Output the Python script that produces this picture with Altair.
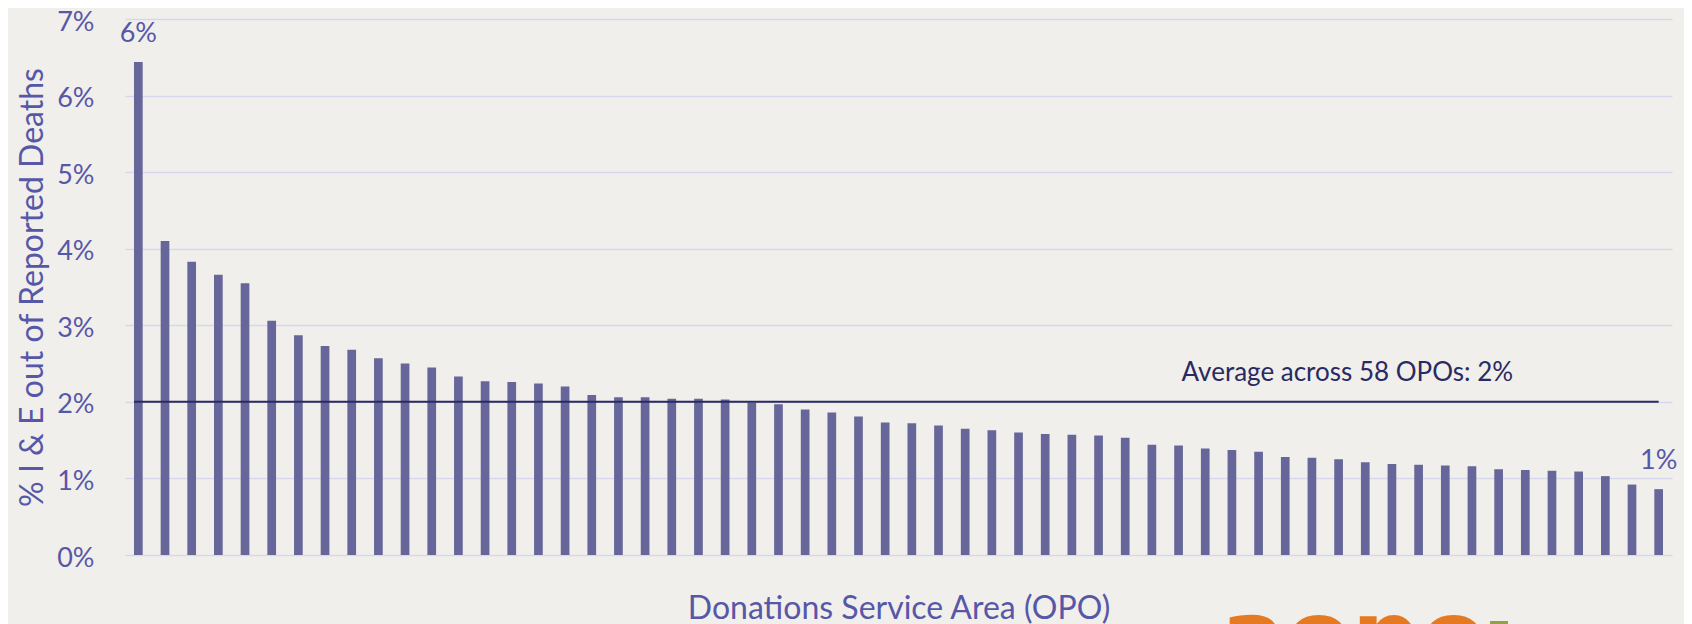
import altair as alt
import pandas as pd

# --- data -------------------------------------------------------------
opos = [f"OPO {i}" for i in range(1, 59)]
pct = [6.44, 4.10, 3.83, 3.66, 3.55, 3.06, 2.87, 2.73, 2.68, 2.57,
       2.50, 2.45, 2.33, 2.27, 2.26, 2.24, 2.20, 2.09, 2.06, 2.06,
       2.04, 2.04, 2.03, 1.99, 1.97, 1.90, 1.86, 1.81, 1.73, 1.72,
       1.69, 1.65, 1.63, 1.60, 1.58, 1.57, 1.56, 1.53, 1.44, 1.43,
       1.39, 1.37, 1.35, 1.28, 1.27, 1.25, 1.21, 1.19, 1.18, 1.17,
       1.16, 1.12, 1.11, 1.10, 1.09, 1.03, 0.92, 0.86]
y_ticks = [0, 1, 2, 3, 4, 5, 6, 7]
average = 2.0
average_label = "Average across 58 OPOs: 2%"
labelled = [opos[0], opos[-1]]
x_title = "Donations Service Area (OPO)"
y_title = "% I & E out of Reported Deaths"
logo_text = "aopo"

FONT = "Lato"
BAR = "#66669A"
TXT = "#5757A8"
NAVY = "#2A2A62"
GRID = "#D7D7EE"

df = pd.DataFrame({"opo": opos, "pct": pct})
df["label"] = [f"{round(v)}%" if o in labelled else "" for o, v in zip(opos, pct)]

x_enc = alt.X(
    "opo:N", sort=None,
    scale=alt.Scale(paddingInner=0.674, paddingOuter=0.337),
    axis=alt.Axis(labels=False, ticks=False, domain=False, grid=False,
                  title=x_title, titleFont=FONT, titleFontSize=32,
                  titleFontWeight="normal", titleColor=TXT, titlePadding=38),
)
y_enc = alt.Y(
    "pct:Q",
    scale=alt.Scale(domain=[0, 7], nice=False),
    axis=alt.Axis(values=y_ticks, labelExpr="datum.value + '%'",
                  labelFont=FONT, labelFontSize=27, labelColor=TXT,
                  labelPadding=31, labelOffset=3, ticks=False, domain=False,
                  grid=True, gridColor=GRID, gridWidth=1.6,
                  title=y_title, titleFont=FONT, titleFontSize=32,
                  titleFontWeight="normal", titleColor=TXT,
                  titleX=-93, titleBaseline="middle", titleAngle=270),
)

base = alt.Chart(df)
bars = base.mark_bar(color=BAR).encode(x=x_enc, y=y_enc)

labels = base.mark_text(font=FONT, fontSize=27, color=TXT,
                        baseline="alphabetic", dy=-20).encode(
    x=alt.X("opo:N", sort=None), y="pct:Q", text="label:N")

avg_df = pd.DataFrame({"avg": [average], "txt": [average_label]})
avg_rule = alt.Chart(avg_df).mark_rule(color=NAVY, strokeWidth=2).encode(
    y="avg:Q",
    x=alt.X(datum=opos[0], type="nominal", bandPosition=0),
    x2=alt.X2(datum=opos[-1]),
)
avg_text = alt.Chart(avg_df).mark_text(
    font=FONT, fontSize=26, color=NAVY, align="left",
    baseline="alphabetic", dy=-21, dx=3).encode(
    y="avg:Q",
    x=alt.X(datum=opos[39], type="nominal"),
    text="txt:N",
)

logo_df = pd.DataFrame({"t": [logo_text]})
logo = alt.Chart(logo_df).mark_text(
    font="DejaVu Sans", fontSize=96, fontWeight="bold", color="#E67A22",
    align="left", baseline="alphabetic").encode(
    x=alt.value(1096), y=alt.value(650), text="t:N")
logo_bar = alt.Chart(logo_df).mark_rule(color="#93A043", strokeWidth=18).encode(
    x=alt.value(1374), y=alt.value(602), y2=alt.value(640))

chart = alt.layer(bars, labels, avg_rule, avg_text, logo, logo_bar).properties(
    width=1547, height=536,
    autosize=alt.AutoSizeParams(type="none"),
    padding={"left": 117, "top": 11, "right": 12, "bottom": 69},
    background="#F0EFEB",
).configure_view(stroke=None)

chart.save("out.html", embed_options={"renderer": "svg", "actions": False})
